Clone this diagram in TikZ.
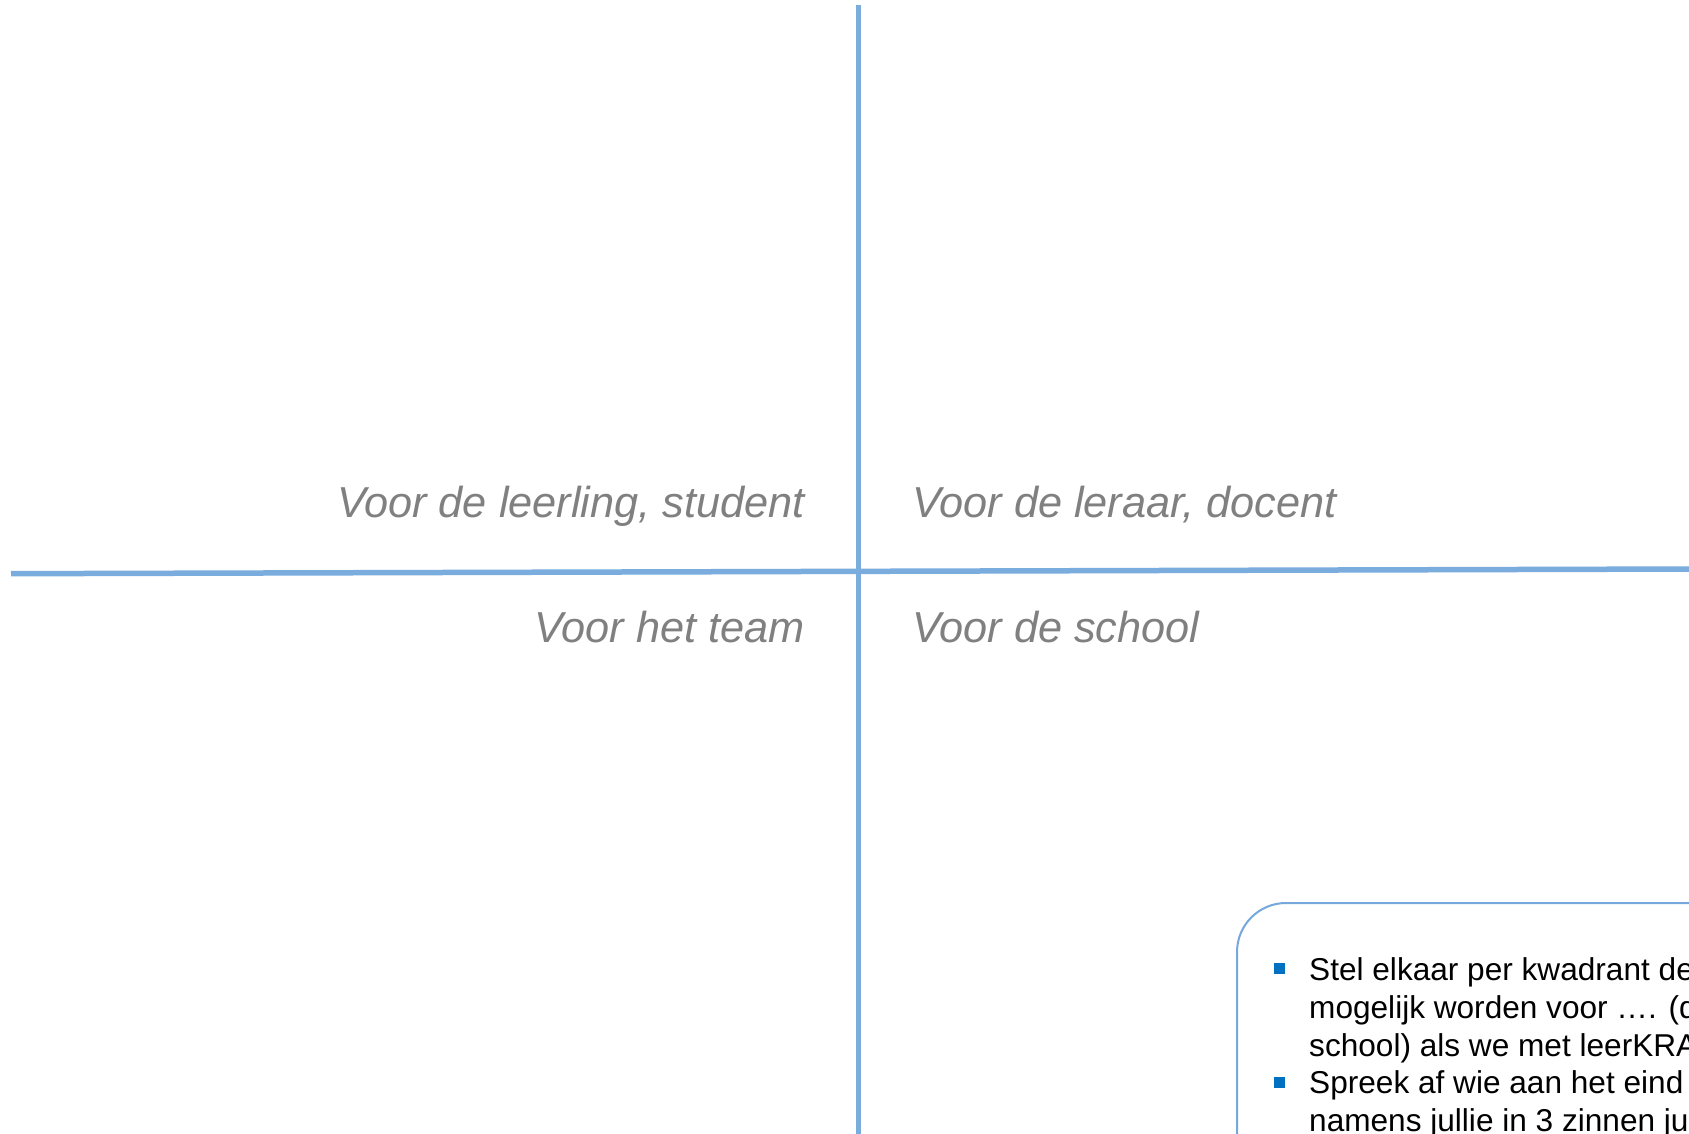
\documentclass[tikz,border=0pt]{standalone}
\usepackage{fontspec}
\setmainfont{Liberation Sans}
\definecolor{gridblue}{RGB}{122,172,222}
\definecolor{boxblue}{RGB}{118,168,220}
\definecolor{bulletblue}{RGB}{0,112,192}
\definecolor{labelgray}{RGB}{128,128,128}
\tikzset{
  gridline/.style={draw=gridblue, line width=5.5pt},
  boxline/.style={draw=boxblue, line width=2pt, rounded corners=49pt},
  quadlabel/.style={inner sep=0pt, text=labelgray, font=\fontsize{43.3}{52}\selectfont\itshape},
  boxtext/.style={inner sep=0pt, anchor=base west, text=black, font=\fontsize{31.6}{38}\selectfont},
  bulletsq/.style={fill=bulletblue}
}
\begin{document}
\begin{tikzpicture}[x=1pt,y=-1pt]
\useasboundingbox (0,0) rectangle (1689,1134);
\clip (0,0) rectangle (1689,1134);
\fill[white] (0,0) rectangle (1689,1134);
% grid lines
\coordinate (vtop) at (858.7,5);
\coordinate (vbot) at (858.7,1140);
\coordinate (hleft) at (11,573.7);
\coordinate (hright) at (1695,569);
\draw[gridline] (vtop) -- (vbot);
\draw[gridline] (hleft) -- (hright);
% quadrant labels
\node[quadlabel, anchor=base east] (ll) at (805,517) {Voor de leerling, student};
\node[quadlabel, anchor=base west] (lr) at (912,517) {Voor de leraar, docent};
\node[quadlabel, anchor=base east] (lt) at (805,642) {Voor het team};
\node[quadlabel, anchor=base west] (ls) at (912,642) {Voor de school};
% instruction box
\draw[boxline] (1710,903) -- (1237,903) -- (1237,1150);
\fill[bulletsq] (1274,963) rectangle (1285,974);
\fill[bulletsq] (1274,1077) rectangle (1285,1088);
\node[boxtext] (t1) at (1309,980) {Stel elkaar per kwadrant de};
\node[boxtext] (t2) at (1309,1018) {mogelijk worden voor …. (d};
\node[boxtext] (t3) at (1309,1056) {school) als we met leerKRA};
\node[boxtext] (t4) at (1309,1093) {Spreek af wie aan het eind};
\node[boxtext] (t5) at (1309,1131) {namens jullie in 3 zinnen ju};
\end{tikzpicture}
\end{document}
